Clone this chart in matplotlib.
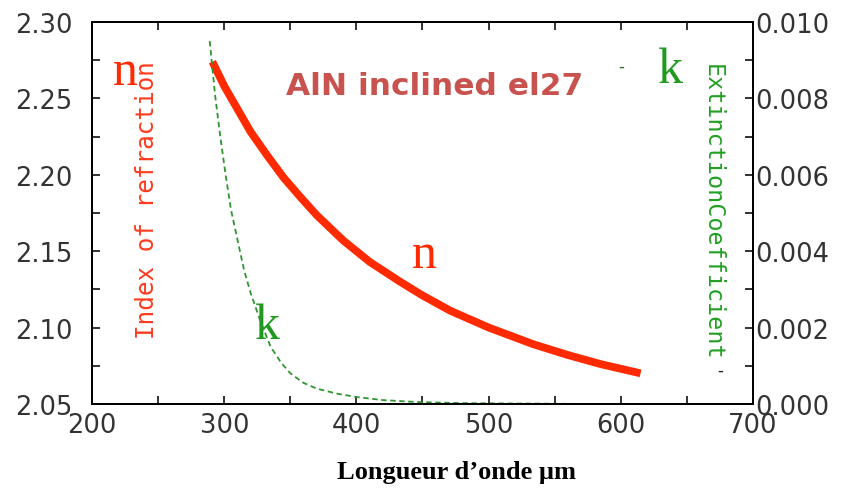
import matplotlib.pyplot as plt
from matplotlib.ticker import MultipleLocator

# values
wl_n = [291, 300, 310, 320, 333, 345, 358, 370, 390, 410, 433, 450, 471, 500, 534, 560, 585, 615]
n_vals = [2.274, 2.258, 2.243, 2.228, 2.212, 2.198, 2.185, 2.1735, 2.157, 2.143,
          2.130, 2.121, 2.111, 2.100, 2.089, 2.082, 2.076, 2.070]

wl_k = [289, 293, 297, 301, 305, 310, 315, 320, 327, 335, 343, 350, 360, 370,
        385, 400, 420, 445, 480, 520, 570, 615]
k_vals = [0.0095, 0.0081, 0.0070, 0.0060, 0.0051, 0.0043, 0.0035, 0.0029, 0.0022,
          0.0015, 0.00108, 0.0008, 0.00055, 0.0004, 0.00027, 0.00018, 0.0001,
          0.00005, 0.00002, 0.00001, 0.0, 0.0]

x_ticks = [200, 300, 400, 500, 600, 700]
n_ticks = [2.05, 2.10, 2.15, 2.20, 2.25, 2.30]
k_ticks = [0.000, 0.002, 0.004, 0.006, 0.008, 0.010]

red = '#ff2a00'
green = '#1f9a1f'
tick_col = '#333333'

fig = plt.figure(figsize=(8.45, 4.89), dpi=100)
ax = fig.add_axes([0.109, 0.172, 0.782, 0.781])
ax2 = ax.twinx()

ax.plot(wl_n, n_vals, color=red, lw=5.6, solid_capstyle='butt', zorder=3)
ax2.plot(wl_k, k_vals, color='#2f962f', lw=1.3, linestyle=(0, (3, 2)))

ax.set_xlim(200, 700)
ax.set_ylim(2.05, 2.30)
ax2.set_ylim(0, 0.010)
ax.set_xticks(x_ticks)
ax.set_yticks(n_ticks)
ax2.set_yticks(k_ticks)
ax.set_xticklabels([str(v) for v in x_ticks])
ax.set_yticklabels(['%.2f' % v for v in n_ticks])
ax2.set_yticklabels(['%.3f' % v for v in k_ticks])
ax.xaxis.set_minor_locator(MultipleLocator(50))
ax.yaxis.set_minor_locator(MultipleLocator(0.025))
ax2.yaxis.set_minor_locator(MultipleLocator(0.001))

for a in (ax, ax2):
    for s in a.spines.values():
        s.set_linewidth(1.4)
    a.tick_params(which='both', direction='in', length=6, width=1.3, color='#222222')

ax.tick_params(axis='x', which='both', top=True, labelsize=18.5, labelcolor=tick_col, pad=6)
ax.tick_params(axis='y', which='both', labelsize=18.5, labelcolor=tick_col, pad=14)
ax2.tick_params(axis='y', which='both', labelsize=18.5, labelcolor=tick_col, pad=2)

fig.text(0.54, 0.033, 'Longueur d\u2019onde \u00b5m', family='Liberation Serif',
         fontweight='bold', fontsize=19, ha='center', va='center')

# in-plot annotations
ax.text(0.05, 0.87, 'n', transform=ax.transAxes, family='Liberation Serif', fontsize=36,
        color=red, ha='center', va='center')
ax.text(0.875, 0.875, 'k', transform=ax.transAxes, family='Liberation Serif', fontsize=36,
        color=green, ha='center', va='center')
ax.text(0.503, 0.39, 'n', transform=ax.transAxes, family='Liberation Serif', fontsize=36,
        color=red, ha='center', va='center')
ax.text(0.266, 0.205, 'k', transform=ax.transAxes, family='Liberation Serif', fontsize=36,
        color=green, ha='center', va='center')
ax.text(0.518, 0.833, 'AlN inclined el27', transform=ax.transAxes, fontsize=22.5,
        fontweight='bold', color='#c8524e', ha='center', va='center')
ax.text(0.083, 0.537, 'Index of refraction', transform=ax.transAxes,
        family='DejaVu Sans Mono', fontsize=17.5, color='#ff3b1f', rotation=90,
        ha='center', va='center')
ax.text(0.938, 0.505, 'ExtinctionCoefficient', transform=ax.transAxes,
        family='DejaVu Sans Mono', fontsize=16.8, color='#22a022', rotation=-90,
        ha='center', va='center')
ax.text(0.80, 0.885, '-', transform=ax.transAxes, fontsize=12, color='#2a6a2a',
        ha='center', va='center')
ax.text(0.95, 0.09, '-', transform=ax.transAxes, fontsize=12, color='#222222',
        ha='center', va='center')

fig.savefig('out.png', dpi=100)
